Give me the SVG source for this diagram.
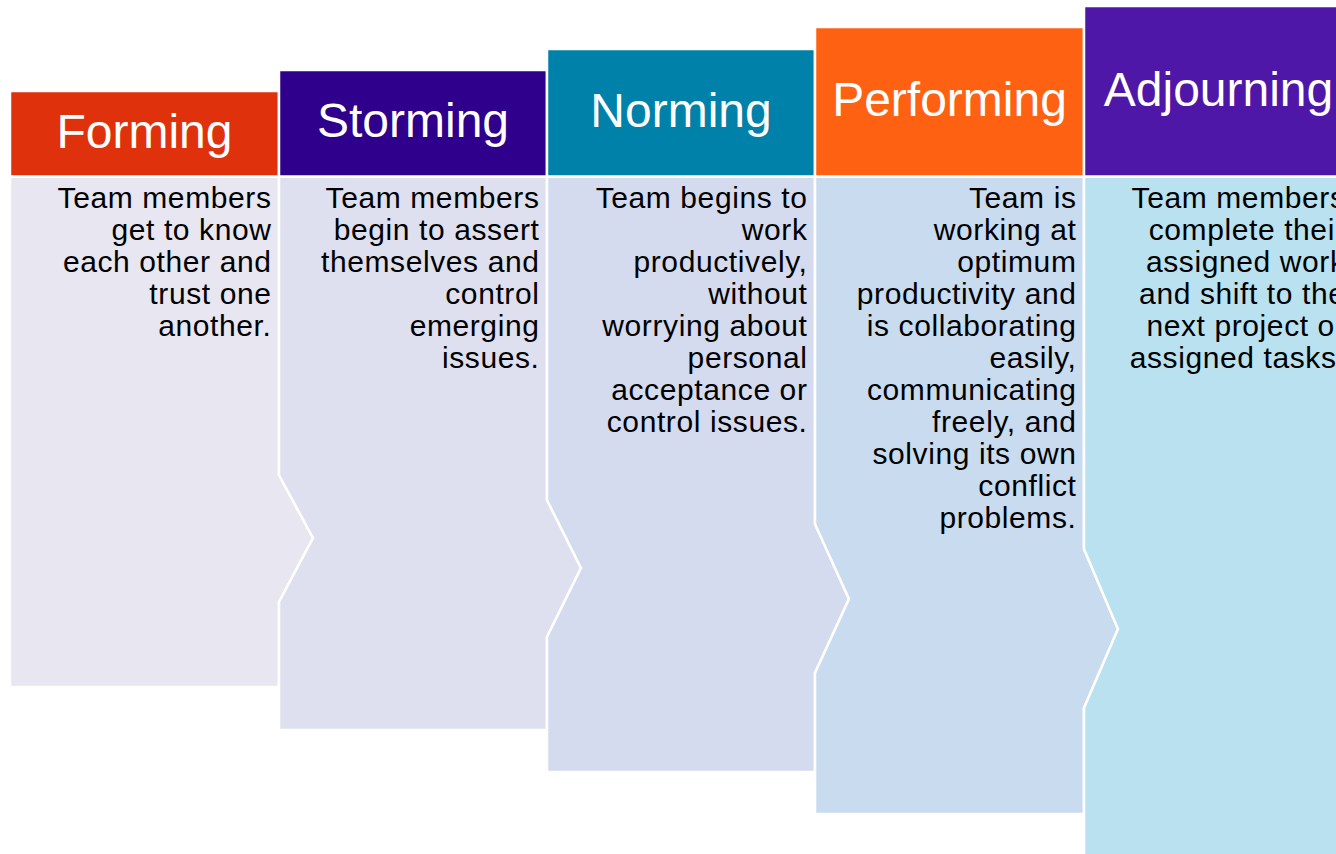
<svg xmlns="http://www.w3.org/2000/svg" width="1336" height="854" viewBox="0 0 1336 854">
<style>
.hd{stroke:#FFFFFF;stroke-width:2.5}
.bd{stroke:#FFFFFF;stroke-width:2.5;stroke-linejoin:miter}
.ht{font-family:"Liberation Sans",Arial,sans-serif;font-size:48px;fill:#FFFFFF;text-anchor:middle}
.bt{font-family:"Liberation Sans",Arial,sans-serif;font-size:30px;letter-spacing:0.6px;fill:#000000;text-anchor:end}
</style>
<rect x="0" y="0" width="1336" height="854" fill="#FFFFFF"/>
<g id="forming">
<polygon class="bd" fill="#E7E6F1" points="10,176.5 279,176.5 279,475 313,538 279,602 279,687 10,687"/>
<rect class="hd" fill="#DF310C" x="10" y="91" width="269" height="85.5"/>
<text class="ht" x="144.5" y="148">Forming</text>
<text class="bt"><tspan x="271.5" y="208">Team members</tspan><tspan x="271.5" y="240">get to know</tspan><tspan x="271.5" y="272">each other and</tspan><tspan x="271.5" y="304">trust one</tspan><tspan x="271.5" y="336">another.</tspan></text>
</g>
<g id="storming">
<polygon class="bd" fill="#DEE0EF" points="279,176.5 547,176.5 547,500 581,568 547,637 547,730 279,730 279,602 313,538 279,475"/>
<rect class="hd" fill="#2E008B" x="279" y="70" width="268" height="106.5"/>
<text class="ht" x="413" y="137">Storming</text>
<text class="bt"><tspan x="539.5" y="208">Team members</tspan><tspan x="539.5" y="240">begin to assert</tspan><tspan x="539.5" y="272">themselves and</tspan><tspan x="539.5" y="304">control</tspan><tspan x="539.5" y="336">emerging</tspan><tspan x="539.5" y="368">issues.</tspan></text>
</g>
<g id="norming">
<polygon class="bd" fill="#D5DBEE" points="547,176.5 815,176.5 815,524 849,599 815,673 815,772 547,772 547,637 581,568 547,500"/>
<rect class="hd" fill="#0081A9" x="547" y="49" width="268" height="127.5"/>
<text class="ht" x="681" y="127">Norming</text>
<text class="bt"><tspan x="807.5" y="208">Team begins to</tspan><tspan x="807.5" y="240">work</tspan><tspan x="807.5" y="272">productively,</tspan><tspan x="807.5" y="304">without</tspan><tspan x="807.5" y="336">worrying about</tspan><tspan x="807.5" y="368">personal</tspan><tspan x="807.5" y="400">acceptance or</tspan><tspan x="807.5" y="432">control issues.</tspan></text>
</g>
<g id="performing">
<polygon class="bd" fill="#C9DBEF" points="815,176.5 1084,176.5 1084,549 1118,629 1084,708 1084,814 815,814 815,673 849,599 815,524"/>
<rect class="hd" fill="#FF6112" x="815" y="27" width="269" height="149.5"/>
<text class="ht" x="949.5" y="116">Performing</text>
<text class="bt"><tspan x="1076.5" y="208">Team is</tspan><tspan x="1076.5" y="240">working at</tspan><tspan x="1076.5" y="272">optimum</tspan><tspan x="1076.5" y="304">productivity and</tspan><tspan x="1076.5" y="336">is collaborating</tspan><tspan x="1076.5" y="368">easily,</tspan><tspan x="1076.5" y="400">communicating</tspan><tspan x="1076.5" y="432">freely, and</tspan><tspan x="1076.5" y="464">solving its own</tspan><tspan x="1076.5" y="496">conflict</tspan><tspan x="1076.5" y="528">problems.</tspan></text>
</g>
<g id="adjourning">
<polygon class="bd" fill="#BAE1EF" points="1084,176.5 1353,176.5 1353,856 1084,856 1084,708 1118,629 1084,549"/>
<rect class="hd" fill="#4F17A8" x="1084" y="6" width="269" height="170.5"/>
<text class="ht" x="1218.5" y="106">Adjourning</text>
<text class="bt"><tspan x="1345.5" y="208">Team members</tspan><tspan x="1345.5" y="240">complete their</tspan><tspan x="1345.5" y="272">assigned work</tspan><tspan x="1345.5" y="304">and shift to the</tspan><tspan x="1345.5" y="336">next project or</tspan><tspan x="1345.5" y="368">assigned tasks.</tspan></text>
</g>
<g id="connectors"></g>
</svg>
